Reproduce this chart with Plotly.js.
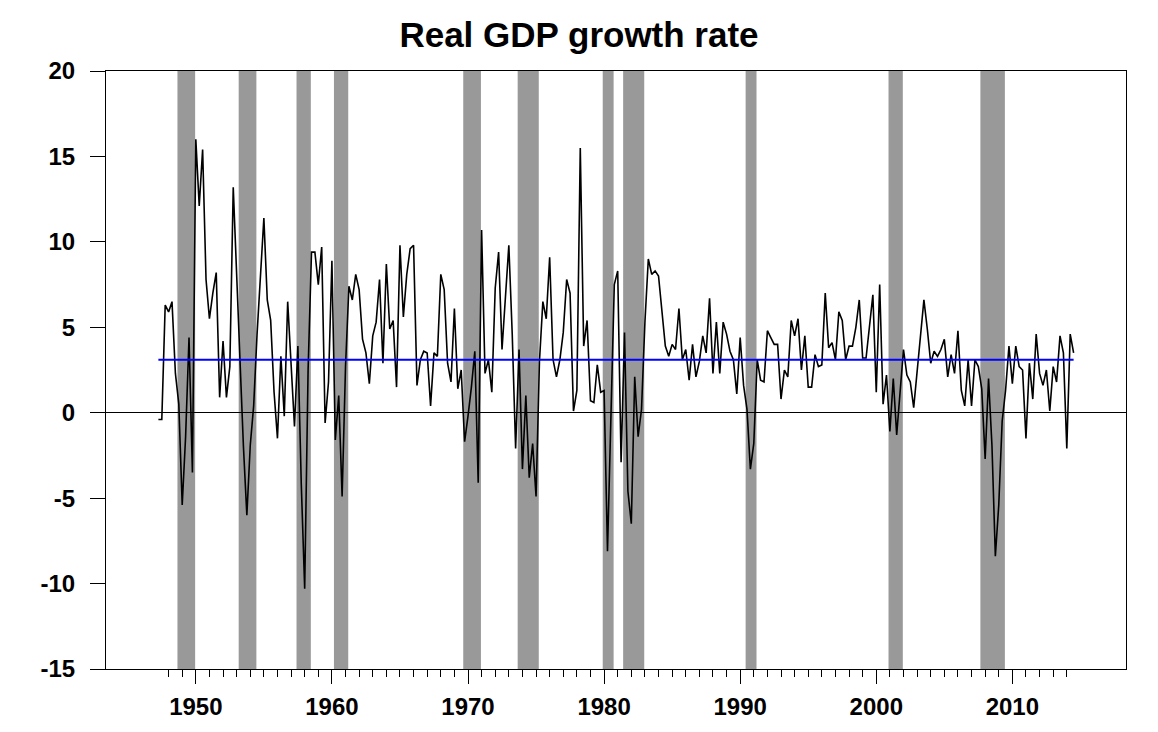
<!DOCTYPE html>
<html>
<head>
<meta charset="utf-8">
<script src="https://cdn.plot.ly/plotly-3.0.1.min.js"></script>
<style>
  html, body { margin: 0; padding: 0; background: #ffffff; }
  #chart { width: 1158px; height: 732px; }
</style>
</head>
<body>
<div id="chart"></div>
<script>
// Real GDP growth, quarterly, annualized %, 1947Q2 .. 2014Q3
const firstQuarter = '1947Q2';
const g1947_1949 = [-0.4, -0.4, 6.3,
  5.9, 6.5, 2.3, 0.5,
  -5.4, -1.4, 4.4, -3.5];
const g1950s = [
  16.0, 12.1, 15.4, 7.8,
  5.5, 7.0, 8.2, 0.9,
  4.2, 0.9, 2.7, 13.2,
  7.5, 3.0, -2.0, -6.0,
  -1.9, 0.4, 4.6, 8.0,
  11.4, 6.6, 5.4, 1.2,
  -1.5, 3.3, -0.2, 6.5,
  2.8, -0.8, 3.9, -4.2,
  -10.3, 2.5, 9.4, 9.4,
  7.5, 9.7, -0.6, 1.8];
const g1960s = [
  8.9, -1.6, 1.0, -4.9,
  2.7, 7.4, 6.6, 8.1,
  7.2, 4.3, 3.5, 1.7,
  4.5, 5.3, 7.8, 2.9,
  8.7, 4.9, 5.4, 1.5,
  9.8, 5.6, 8.1, 9.6,
  9.8, 1.6, 3.1, 3.6,
  3.5, 0.4, 3.5, 3.3,
  8.1, 7.2, 2.9, 1.8,
  6.1, 1.4, 2.5, -1.7];
const g1970s = [
  -0.2, 1.5, 3.6, -4.1,
  10.7, 2.3, 3.1, 1.2,
  7.3, 9.4, 3.7, 6.7,
  9.8, 4.6, -2.1, 3.7,
  -3.3, 1.0, -3.8, -1.8,
  -4.9, 3.0, 6.5, 5.5,
  9.1, 3.1, 2.1, 3.1,
  4.7, 7.8, 7.0, 0.1,
  1.3, 15.5, 3.9, 5.4,
  0.7, 0.6, 2.8, 1.2];
const g1980s = [
  1.3, -8.1, -0.5, 7.5,
  8.3, -2.9, 4.7, -4.6,
  -6.5, 2.1, -1.4, 0.2,
  5.3, 9.0, 8.1, 8.3,
  8.0, 6.0, 3.9, 3.3,
  4.0, 3.7, 6.1, 3.1,
  3.7, 1.9, 4.0, 2.1,
  3.0, 4.5, 3.5, 6.7,
  2.3, 5.3, 2.3, 5.3,
  4.6, 3.6, 3.1, 1.1];
const g1990s = [
  4.4, 1.6, 0.2, -3.3,
  -1.8, 3.1, 1.9, 1.8,
  4.8, 4.4, 4.0, 4.0,
  0.8, 2.5, 2.1, 5.4,
  4.5, 5.5, 2.5, 4.5,
  1.5, 1.5, 3.4, 2.7,
  2.8, 7.0, 3.8, 4.1,
  3.1, 5.9, 5.4, 3.1,
  3.9, 3.9, 5.0, 6.6,
  3.2, 3.2, 5.1, 6.9];
const g2000s = [
  1.2, 7.5, 0.5, 2.2,
  -1.1, 2.0, -1.3, 1.1,
  3.7, 2.2, 1.8, 0.3,
  2.4, 4.2, 6.6, 4.9,
  2.9, 3.6, 3.3, 3.7,
  4.3, 2.1, 3.4, 2.3,
  4.8, 1.3, 0.4, 3.1,
  0.4, 3.1, 2.7, 1.4,
  -2.7, 2.0, -1.9, -8.4,
  -5.4, -0.5, 1.3, 3.9];
const g2010s = [
  1.7, 3.9, 2.7, 2.5,
  -1.5, 2.9, 0.8, 4.6,
  2.3, 1.6, 2.5, 0.1,
  2.7, 1.8, 4.5, 3.5,
  -2.1, 4.6, 3.5];

// average growth over the sample (blue line)
const avgGrowth = 3.1;

// NBER recessions (peak quarter, trough quarter)
const recessionPeaks   = ['1948Q4','1953Q2','1957Q3','1960Q2','1969Q4','1973Q4','1980Q1','1981Q3','1990Q3','2001Q1','2007Q4'];
const recessionTroughs = ['1949Q4','1954Q2','1958Q2','1961Q1','1970Q4','1975Q1','1980Q3','1982Q4','1991Q1','2001Q4','2009Q2'];

// axis labels
const yTicks = [-15, -10, -5, 0, 5, 10, 15, 20];
const xTicks = [1950, 1960, 1970, 1980, 1990, 2000, 2010];

function qToYear(q) {
  const y = parseInt(q.slice(0, 4), 10);
  const n = parseInt(q.slice(5), 10);
  return y + (n - 1) / 4;
}

const growth = [].concat(g1947_1949, g1950s, g1960s, g1970s, g1980s, g1990s, g2000s, g2010s);
const t0 = qToYear(firstQuarter);
const tx = growth.map((_, i) => t0 + i * 0.25);

const minorTicks = [];
for (let y = 1948; y <= 2014; y++) minorTicks.push(y);

const shapes = recessionPeaks.map((p, i) => ({
  type: 'rect', layer: 'below', xref: 'x', yref: 'paper',
  x0: qToYear(p) - 0.1, x1: qToYear(recessionTroughs[i]) + 0.2, y0: 0, y1: 1,
  fillcolor: '#999999', line: { width: 0 }
}));

const font = 'Liberation Sans, Arial, Helvetica, sans-serif';

const traces = [
  {
    x: tx, y: growth, type: 'scatter', mode: 'lines',
    line: { color: '#000000', width: 1.6 }, hoverinfo: 'skip', showlegend: false
  },
  {
    x: [tx[0], tx[tx.length - 1]], y: [avgGrowth, avgGrowth], type: 'scatter', mode: 'lines',
    line: { color: '#0000ff', width: 2 }, hoverinfo: 'skip', showlegend: false
  }
];

const layout = {
  width: 1158, height: 732,
  margin: { l: 106, r: 32, t: 71, b: 63, pad: 0 },
  paper_bgcolor: '#ffffff', plot_bgcolor: '#ffffff',
  showlegend: false,
  title: {
    text: 'Real GDP growth rate',
    font: { family: font, size: 35, color: '#000000', weight: 'bold' },
    x: 0.5, xref: 'container', xanchor: 'center',
    y: 0.953, yref: 'container', yanchor: 'middle'
  },
  xaxis: {
    range: [1943.4, 2018.35],
    tickmode: 'array', tickvals: xTicks, ticktext: xTicks.map(String),
    ticks: 'outside', ticklen: 14, tickwidth: 1, tickcolor: '#000000',
    showline: true, linecolor: '#000000', linewidth: 1, mirror: true,
    showgrid: false, zeroline: false,
    tickfont: { family: font, size: 24, color: '#000000', weight: 'bold' },
    ticklabelstandoff: 2,
    minor: { tickmode: 'array', tickvals: minorTicks, ticks: 'outside', ticklen: 7, tickwidth: 1, tickcolor: '#000000', showgrid: false }
  },
  yaxis: {
    range: [-15, 20],
    tickmode: 'array', tickvals: yTicks, ticktext: yTicks.map(String),
    ticks: 'outside', ticklen: 15, tickwidth: 1, tickcolor: '#000000',
    showline: true, linecolor: '#000000', linewidth: 1, mirror: true,
    showgrid: false,
    zeroline: true, zerolinecolor: '#000000', zerolinewidth: 1,
    tickfont: { family: font, size: 24, color: '#000000', weight: 'bold' },
    ticklabelstandoff: 10
  },
  shapes: shapes
};

Plotly.newPlot('chart', traces, layout, { displayModeBar: false, staticPlot: true });
</script>
</body>
</html>
